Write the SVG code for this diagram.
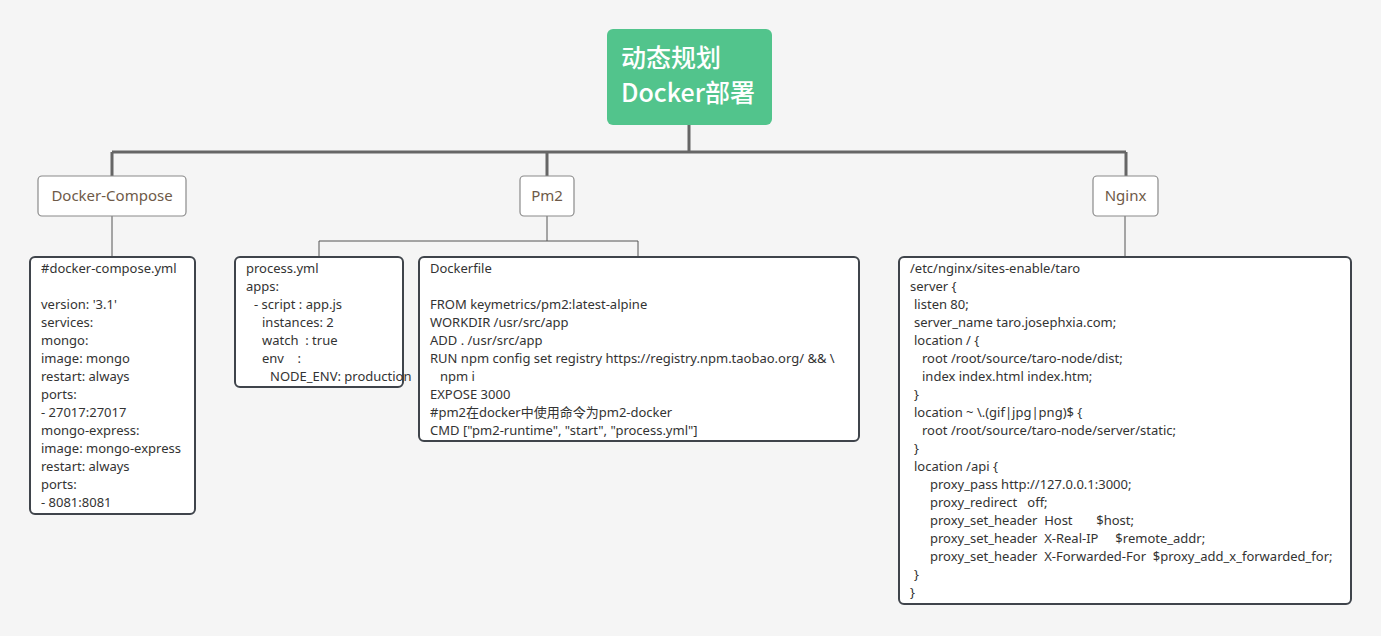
<svg xmlns="http://www.w3.org/2000/svg" width="1381" height="636" viewBox="0 0 1381 636">
<style>
.bg{fill:#f5f5f5}
.main{stroke:#666;stroke-width:3;fill:none}
.sub{stroke:#555;stroke-width:1;fill:none}
.topic{fill:#fff;stroke:#8a8a8a;stroke-width:1.2}
.tt{font-family:"Noto Sans","Noto Sans CJK SC",sans-serif;font-size:15px;fill:#6e5a48;text-anchor:middle}
.box{fill:#fff;stroke:#3f444b;stroke-width:2}
.c{font-family:"Noto Sans","Noto Sans CJK SC",sans-serif;font-size:13px;fill:#333}
.root{font-family:"Noto Sans CJK SC","Noto Sans",sans-serif;font-size:25px;fill:#fff;font-weight:500}
</style>
<rect class="bg" x="0" y="0" width="1381" height="636"/>
<g id="connectors">
<path class="main" d="M689,125 V152 M112,152 H1126 M112,152 V177 M547,152 V177 M1126,152 V177"/>
<path class="sub" d="M112,216 V257 M547,216 V241 M319,241 H638 M319,241 V257 M638,241 V257 M1125,216 V257"/>
</g>
<g id="root">
<rect x="607" y="29" width="165" height="96" rx="6" fill="#52c48c"/>
<text class="root" x="621" y="67">动态规划</text>
<text class="root" x="621" y="102">Docker部署</text>
</g>
<g id="docker-compose">
<rect class="topic" x="38" y="176" width="148" height="40" rx="4"/>
<text class="tt" x="112" y="201">Docker-Compose</text>
</g>
<g id="pm2">
<rect class="topic" x="520" y="176" width="54" height="40" rx="4"/>
<text class="tt" x="547" y="201">Pm2</text>
</g>
<g id="nginx">
<rect class="topic" x="1093" y="176" width="65" height="40" rx="4"/>
<text class="tt" x="1125.5" y="201">Nginx</text>
</g>
<g id="compose-file">
<rect class="box" x="30" y="257" width="165" height="257" rx="5"/>
<text class="c" x="41" y="272.5">#docker-compose.yml</text>
<text class="c" x="41" y="308.5">version: '3.1'</text>
<text class="c" x="41" y="326.5">services:</text>
<text class="c" x="41" y="344.5">mongo:</text>
<text class="c" x="41" y="362.5">image: mongo</text>
<text class="c" x="41" y="380.5">restart: always</text>
<text class="c" x="41" y="398.5">ports:</text>
<text class="c" x="41" y="416.5">- 27017:27017</text>
<text class="c" x="41" y="434.5">mongo-express:</text>
<text class="c" x="41" y="452.5">image: mongo-express</text>
<text class="c" x="41" y="470.5">restart: always</text>
<text class="c" x="41" y="488.5">ports:</text>
<text class="c" x="41" y="506.5">- 8081:8081</text>
</g>
<g id="process-yml">
<rect class="box" x="235" y="257" width="168" height="130" rx="5"/>
<text class="c" x="246" y="272.5">process.yml</text>
<text class="c" x="246" y="290.5">apps:</text>
<text class="c" x="254" y="308.5">- script : app.js</text>
<text class="c" x="262" y="326.5">instances: 2</text>
<text class="c" x="262" y="344.5" xml:space="preserve">watch  : true</text>
<text class="c" x="262" y="362.5" xml:space="preserve">env    :</text>
<text class="c" x="270" y="380.5">NODE_ENV: production</text>
</g>
<g id="dockerfile">
<rect class="box" x="419" y="257" width="440" height="184" rx="5"/>
<text class="c" x="430" y="272.5">Dockerfile</text>
<text class="c" x="430" y="308.5">FROM keymetrics/pm2:latest-alpine</text>
<text class="c" x="430" y="326.5">WORKDIR /usr/src/app</text>
<text class="c" x="430" y="344.5">ADD . /usr/src/app</text>
<text class="c" x="430" y="362.5">RUN npm config set registry https://registry.npm.taobao.org/ &amp;&amp; \</text>
<text class="c" x="440" y="380.5">npm i</text>
<text class="c" x="430" y="398.5">EXPOSE 3000</text>
<text class="c" x="430" y="416.5">#pm2在docker中使用命令为pm2-docker</text>
<text class="c" x="430" y="434.5">CMD ["pm2-runtime", "start", "process.yml"]</text>
</g>
<g id="nginx-conf">
<rect class="box" x="899" y="257" width="452" height="347" rx="5"/>
<text class="c" x="910" y="272.5">/etc/nginx/sites-enable/taro</text>
<text class="c" x="910" y="290.5">server {</text>
<text class="c" x="914" y="308.5">listen 80;</text>
<text class="c" x="914" y="326.5">server_name taro.josephxia.com;</text>
<text class="c" x="914" y="344.5">location / {</text>
<text class="c" x="922" y="362.5">root /root/source/taro-node/dist;</text>
<text class="c" x="922" y="380.5">index index.html index.htm;</text>
<text class="c" x="914" y="398.5">}</text>
<text class="c" x="914" y="416.5">location ~ \.(gif|jpg|png)$ {</text>
<text class="c" x="922" y="434.5">root /root/source/taro-node/server/static;</text>
<text class="c" x="914" y="452.5">}</text>
<text class="c" x="914" y="470.5">location /api {</text>
<text class="c" x="930" y="488.5">proxy_pass http://127.0.0.1:3000;</text>
<text class="c" x="930" y="506.5" xml:space="preserve">proxy_redirect   off;</text>
<text class="c" x="930" y="524.5" xml:space="preserve">proxy_set_header  Host       $host;</text>
<text class="c" x="930" y="542.5" xml:space="preserve">proxy_set_header  X-Real-IP     $remote_addr;</text>
<text class="c" x="930" y="560.5" xml:space="preserve">proxy_set_header  X-Forwarded-For  $proxy_add_x_forwarded_for;</text>
<text class="c" x="914" y="578.5">}</text>
<text class="c" x="910" y="596.5">}</text>
</g>
</svg>
